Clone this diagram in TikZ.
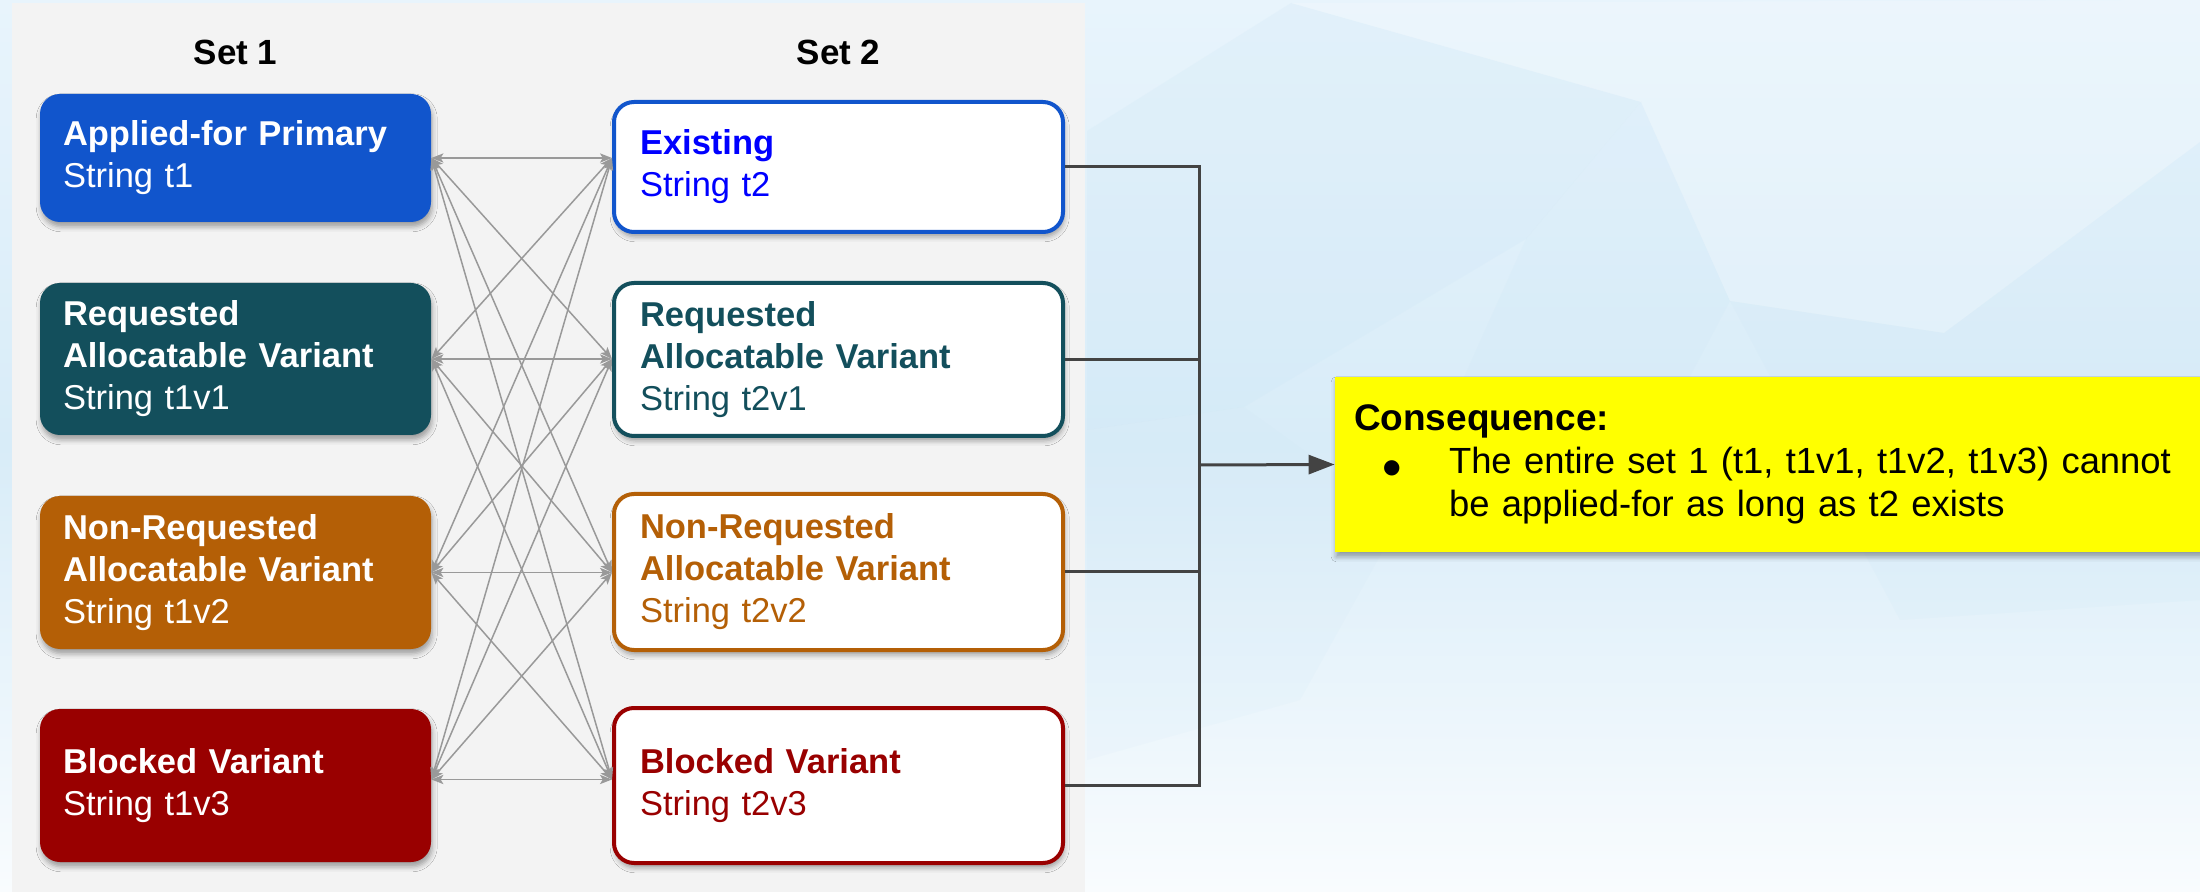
\documentclass[tikz,border=0pt]{standalone}
\usepackage{fontspec}
\setmainfont{Liberation Sans}
\newfontfamily\symfont{DejaVu Sans}
\usetikzlibrary{arrows.meta,shadows.blur,calc}

\definecolor{boxblue}{HTML}{1155CC}
\definecolor{boxteal}{HTML}{134F5C}
\definecolor{boxorange}{HTML}{B45F06}
\definecolor{boxred}{HTML}{990000}
\definecolor{pureblue}{HTML}{0000FF}
\definecolor{panelgray}{HTML}{F3F3F3}
\definecolor{linkgray}{HTML}{999999}
\definecolor{busgray}{HTML}{434343}
\definecolor{noteyellow}{HTML}{FFFF00}
\definecolor{skytop}{HTML}{E8F4FC}
\definecolor{skymid}{HTML}{D8ECF8}
\definecolor{skylow}{HTML}{F9FCFE}
\definecolor{skydeep}{HTML}{C8E3F5}

\begin{document}
\begin{tikzpicture}[x=0.5pt,y=-0.5pt,
  softshadow/.style={blur shadow={shadow xshift=0.6pt, shadow yshift=-2.4pt,
      shadow blur radius=2.5pt, shadow opacity=35}},
  card/.style={rounded corners=10pt, align=left, inner ysep=0pt, softshadow,
      font=\fontsize{17.25}{21}\selectfont},
  leftcard/.style={card, fill=#1, text=white, text width=172.5pt, inner xsep=11.5pt},
  rightcard/.style={card, draw=#1, line width=2pt, fill=white, text=#1,
      text width=198.5pt, inner xsep=13pt},
  settitle/.style={font=\fontsize{17.5}{21}\selectfont\bfseries, anchor=base, inner sep=0pt},
  link/.style={draw=linkgray, line width=0.75pt,
      {Stealth[length=6pt,width=4.6pt,inset=1.4pt]}-{Stealth[length=6pt,width=4.6pt,inset=1.4pt]}},
  busline/.style={draw=busgray, line width=1.5pt},
  notebox/.style={fill=noteyellow, softshadow, align=left, inner xsep=9.5pt, inner ysep=0pt,
      text width=421pt, minimum height=87.5pt, font=\fontsize{18.5}{21.5}\selectfont}
]
\useasboundingbox (0,0) rectangle (2200,892);

% sky background with a faint low-poly pattern
\shade[top color=skytop, bottom color=skylow, middle color=skymid] (0,0) rectangle (2200,892);
\fill[skydeep, opacity=0.18] (1087,131) -- (1291,3) -- (1641,102) -- (1526,239) -- (1244,407) -- (1087,430) -- cycle;
\fill[skydeep, opacity=0.15] (1526,239) -- (1641,102) -- (1730,301) -- (1640,470) -- (1400,520) -- cycle;
\fill[white, opacity=0.18] (1291,3) -- (2200,0) -- (2200,142) -- (1944,333) -- (1730,301) -- (1641,102) -- cycle;
\fill[skydeep, opacity=0.12] (1730,301) -- (1944,333) -- (2200,142) -- (2200,600) -- (1900,620) -- cycle;
\fill[skydeep, opacity=0.10] (1087,430) -- (1244,407) -- (1400,520) -- (1300,700) -- (1087,760) -- cycle;

% grey panel behind the two sets
\fill[panelgray] (12,3) rectangle (1085,892);

% column titles
\node[settitle] (t1) at (235.5,65) {Set 1};
\node[settitle] (t2) at (838.5,65) {Set 2};

% set 1
\node[leftcard=boxblue, minimum height=64pt] (a1) at (235.5,158)
  {\textbf{Applied-for Primary}\\String t1};
\node[leftcard=boxteal, minimum height=76pt] (a2) at (235.5,359)
  {\textbf{Requested}\\\textbf{Allocatable Variant}\\String t1v1};
\node[leftcard=boxorange, minimum height=76.5pt] (a3) at (235.5,572.5)
  {\textbf{Non-Requested}\\\textbf{Allocatable Variant}\\String t1v2};
\node[leftcard=boxred, minimum height=76.5pt] (a4) at (235.5,785.5)
  {\textbf{Blocked Variant}\\String t1v3};

% set 2
\node[rightcard=boxblue, text=pureblue, minimum height=65pt] (b1) at (838.5,167)
  {\textbf{Existing}\\String t2};
\node[rightcard=boxteal, minimum height=76.5pt] (b2) at (838.5,359.5)
  {\textbf{Requested}\\\textbf{Allocatable Variant}\\String t2v1};
\node[rightcard=boxorange, minimum height=78pt] (b3) at (838.5,572)
  {\textbf{Non-Requested}\\\textbf{Allocatable Variant}\\String t2v2};
\node[rightcard=boxred, minimum height=77.5pt] (b4) at (838.5,785.5)
  {\textbf{Blocked Variant}\\String t2v3};

% consequence note with one bulleted item
\node[notebox, minimum width=440pt] (c) at (1775,464.5)
  {\textbf{Consequence:}\\
   \makebox[47.5pt][l]{\hspace{14.5pt}{\symfont\fontsize{10}{10}\selectfont ●}}%
   \parbox[t]{370pt}{\raggedright\fontsize{18.2}{21.5}\selectfont
     The entire set 1 (t1, t1v1, t1v2, t1v3) cannot\\
     be applied-for as long as t2 exists}};

% attachment points of the cross links
\coordinate (l1) at (a1.east);
\coordinate (l2) at (a2.east);
\coordinate (l3) at (a3.east);
\coordinate (l4) at ([yshift=3pt]a4.east);
\foreach \k in {1,...,4} {\coordinate (r\k) at (b\k.west |- l\k);}

% every member of set 1 against every member of set 2
\foreach \i in {1,...,4} {
  \foreach \j in {1,...,4} {
    \draw[link] (l\i) -- (r\j);
  }
}

% collecting bus towards the note
\coordinate (bus) at (1199,465);
\draw[busline] (b1.east) -| (bus);
\draw[busline] (b4.east) -| (bus);
\draw[busline] (b2.east) -- (b2.east -| bus);
\draw[busline] (b3.east) -- (b3.east -| bus);
\draw[busline, -{Triangle[length=13pt,width=9.5pt]}] (bus) -- (c.west);
\end{tikzpicture}
\end{document}
